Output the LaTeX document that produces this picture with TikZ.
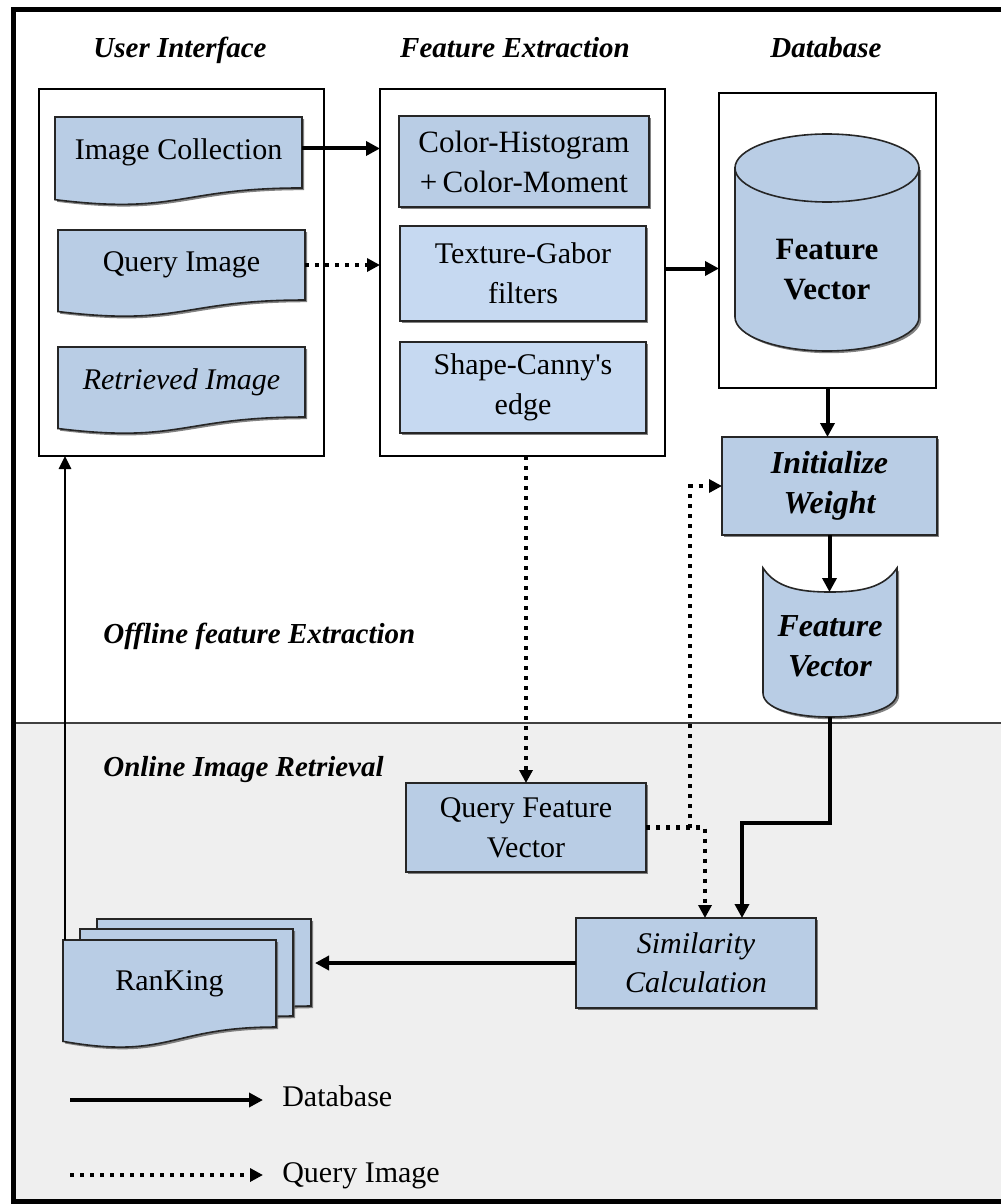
\documentclass[tikz,border=0pt]{standalone}
\usepackage{fontspec}
\setmainfont{Liberation Serif}
\usetikzlibrary{arrows.meta,shadows,calc}

\definecolor{boxblue}{HTML}{B9CDE5}
\definecolor{lightblue}{HTML}{C6D9F1}
\definecolor{bggray}{HTML}{EFEFEF}

\newcommand\straightquote{\XeTeXglyph\XeTeXglyphindex "quotesingle"\relax}

\tikzset{
 every node/.style={font=\fontsize{30}{40}\selectfont, outer sep=0pt},
 title/.style={font=\fontsize{29}{36}\selectfont\bfseries\itshape, anchor=base},
 container/.style={draw=black, line width=2.6pt, fill=white, anchor=north west, inner sep=0pt},
 bluebox/.style={draw=black!85, line width=1.6pt, fill=boxblue,
   drop shadow={shadow xshift=2.2pt,shadow yshift=-2.2pt,fill=black!65,opacity=.75}},
 boxnode/.style={bluebox, anchor=north west, inner sep=0pt, align=center},
 textarea/.style={inner sep=0pt, align=center, anchor=north west},
 sarrow/.style={line width=4pt, -{Triangle[length=14pt,width=14pt]}},
 uarrow/.style={line width=2.8pt, -{Triangle[length=13pt,width=12pt]}},
 qarrow/.style={line width=4.2pt, dash pattern=on 4pt off 6pt, -{Triangle[length=13pt,width=13pt]}},
 bfit/.style={font=\fontsize{32}{40}\selectfont\bfseries\itshape, align=center},
}

% name, x, y, w, h, text
\newcommand\mydoc[6]{%
  \path[bluebox] (#2,#3) -- (#2+#4,#3) -- (#2+#4,#3+0.802*#5)
     .. controls (#2+0.5*#4,#3+0.802*#5) and (#2+0.5*#4,#3+1.107*#5) .. (#2,#3+0.934*#5) -- cycle;
  \node[textarea, minimum width=#4pt, minimum height=0.802*#5pt] (#1) at (#2,#3) {#6};
}

\begin{document}
\begin{tikzpicture}[x=1pt,y=-1pt]
\useasboundingbox (0,0) rectangle (1001,1204);
\fill[white] (0,0) rectangle (1001,1204);
% lower gray region
\fill[bggray] (13,723) rectangle (1001,1201);
\draw[line width=2pt, black!75] (13,723) -- (1001,723);
% outer frame
\draw[line width=5pt] (1001,10) -- (13,10) -- (13,1201) -- (1001,1201);

% titles
\node[title] (tui) at (180,58) {User Interface};
\node[title] (tfe) at (515,58) {Feature Extraction};
\node[title] (tdb) at (826,58) {Database};

% containers
\node[container, minimum width=285pt, minimum height=367pt] (ui) at (39,89) {};
\node[container, minimum width=285pt, minimum height=367pt] (fe) at (380,89) {};
\node[container, minimum width=217pt, minimum height=295pt] (db) at (719,93) {};

% user interface documents
\mydoc{ic}{55}{117}{247}{88.5}{Image Collection}
\mydoc{qi}{58}{230}{247}{87.3}{Query Image}
\mydoc{ri}{58}{347}{247}{87.3}{\itshape Retrieved Image}

% feature extraction boxes
\node[boxnode, minimum width=250pt, minimum height=91pt, font=\fontsize{31}{40}\selectfont] (ch) at (399,116) {Color-Histogram\\+\,Color-Moment};
\node[boxnode, fill=lightblue, minimum width=246pt, minimum height=95pt] (tg) at (400,226) {Texture-Gabor\\filters};
\node[boxnode, fill=lightblue, minimum width=246pt, minimum height=91pt] (shp) at (400,342) {Shape-Canny\straightquote s\\edge};

% database cylinder
\path[bluebox] (735,168) -- (735,317)
  .. controls (735,335.8) and (776.2,351) .. (827,351)
  .. controls (877.8,351) and (919,335.8) .. (919,317) -- (919,168) -- cycle;
\draw[draw=black!85, line width=1.6pt, fill=boxblue] (735,168)
  .. controls (735,149.2) and (776.2,134) .. (827,134)
  .. controls (877.8,134) and (919,149.2) .. (919,168)
  .. controls (919,186.8) and (877.8,202) .. (827,202)
  .. controls (776.2,202) and (735,186.8) .. (735,168) -- cycle;
\node[font=\fontsize{31}{40}\selectfont\bfseries, align=center] (fvdb) at (827,270) {Feature\\Vector};

% initialize weight
\node[boxnode, minimum width=215pt, minimum height=98pt, font=\fontsize{32}{40}\selectfont\bfseries\itshape] (iw) at (722,437) {Initialize\\Weight};

% feature vector (stored)
\path[bluebox] (763,568) .. controls (776,588) and (800,592) .. (830,592)
  .. controls (860,592) and (884,588) .. (897,568) -- (897,693)
  .. controls (897,708) and (868,717) .. (830,717)
  .. controls (792,717) and (763,708) .. (763,693) -- cycle;
\node[bfit] (fvq) at (830,646) {Feature\\Vector};
\coordinate (fvqtop) at (830,592);
\coordinate (fvqbot) at (830,717);

% lower region labels
\node[title, anchor=base west] (off) at (100,643) {Offline feature Extraction};
\node[title, anchor=base west] (on) at (100,776) {Online Image Retrieval};

% query feature vector & similarity
\node[boxnode, minimum width=240pt, minimum height=89pt] (qfv) at (406,783) {Query Feature\\Vector};
\node[boxnode, minimum width=240pt, minimum height=90pt, font=\fontsize{30}{39}\selectfont\itshape] (sim) at (576,918) {Similarity\\Calculation};

% ranking stack
\mydoc{rankc}{97}{919}{214}{108.5}{}
\mydoc{rankb}{80}{929}{213}{108.5}{}
\mydoc{ranka}{63}{940}{213}{108.5}{RanKing}

% connectors
\draw[sarrow] ([yshift=4pt]ic.east) -- ([yshift=4pt]ic.east -| fe.west);
\draw[qarrow] (qi.east) -- (qi.east -| fe.west);
\draw[sarrow] ([yshift=4pt]fe.east) -- ([yshift=4pt]fe.east -| db.west);
\draw[sarrow] (db.south) -- (db.south |- iw.north);
\draw[sarrow] (iw.south) -- (iw.south |- fvqtop);
\coordinate (bend) at (830,823);
\draw[sarrow] (fvqbot) -- (bend) -| ([xshift=166pt]sim.north west);
\draw[qarrow] (fe.south -| qfv.north) -- (qfv.north);
\draw[qarrow] (qfv.east) -| ([xshift=129pt]sim.north west);
\draw[qarrow] ([xshift=44pt]qfv.east) |- (iw.west);
\draw[sarrow] (sim.west) -- ([xshift=4pt]sim.west -| rankc.east);
\draw[uarrow] ([xshift=2pt]ranka.north west) -- ([xshift=2pt]ranka.north west |- ui.south);

% legend
\node[anchor=base west] (legdb) at (279,1106) {Database};
\node[anchor=base west] (legqi) at (279,1182) {Query Image};
\coordinate (legdbs) at (70,1100);
\coordinate (legqis) at (70,1175);
\draw[sarrow] (legdbs) -- ([xshift=-16pt]legdbs -| legdb.west);
\draw[qarrow] (legqis) -- ([xshift=-16pt]legqis -| legqi.west);
\end{tikzpicture}
\end{document}
